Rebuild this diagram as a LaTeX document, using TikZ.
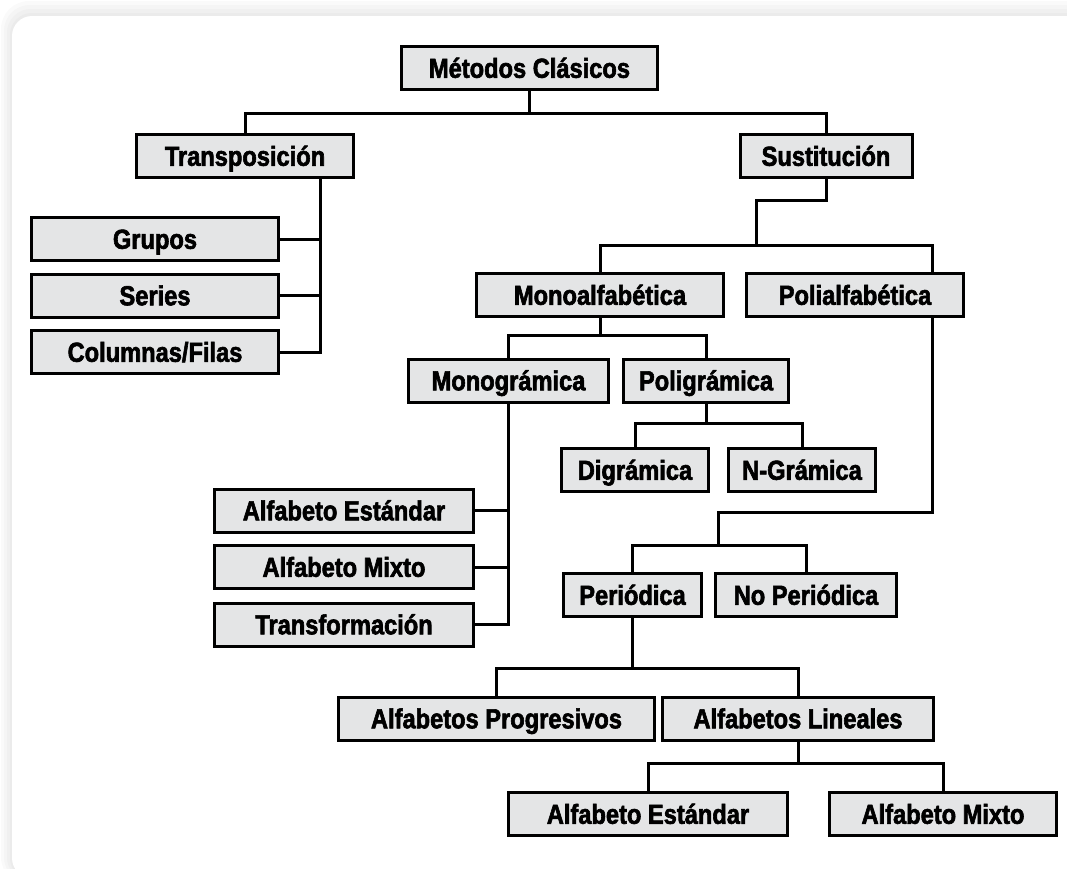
\documentclass[tikz,border=0pt]{standalone}
\usepackage{fontspec}
\newfontfamily\boxfont[FakeStretch=0.86,BoldFeatures={FakeBold=2.2}]{Liberation Sans}
\definecolor{boxfill}{HTML}{E4E5E6}
\begin{document}
\begin{tikzpicture}[x=1pt,y=-1pt,
  cbox/.style={draw=black, line width=3pt, fill=boxfill, inner sep=0pt,
    minimum height=43pt, text height=19.5pt, text depth=0pt,
    font={\boxfont\bfseries\fontsize{27.5}{27.5}\selectfont}},
  conn/.style={draw=black, line width=3pt}]
\useasboundingbox (0,0) rectangle (1067,868);

% white panel with a soft grey rim
\begin{scope}
  \clip (0,0) rectangle (1067,868);
  \fill[gray!4, rounded corners=28pt] (1,1) rectangle (1120,885);
  \fill[gray!8, rounded corners=26pt] (4,5) rectangle (1120,883);
  \fill[gray!12, rounded corners=24pt] (7,9) rectangle (1120,881);
  \fill[gray!16, rounded corners=22pt] (10,13) rectangle (1120,880);
  \fill[white, rounded corners=20pt] (12,16) rectangle (1120,878);
\end{scope}

% boxes
\node[cbox, minimum width=256pt] (mc) at (529.5,68) {Métodos Clásicos};
\node[cbox, minimum width=217pt] (tr) at (245,156) {Transposición};
\node[cbox, minimum width=172pt] (su) at (826,156) {Sustitución};
\node[cbox, minimum width=247pt] (gr) at (155,239) {Grupos};
\node[cbox, minimum width=247pt] (se) at (155,295.5) {Series};
\node[cbox, minimum width=247pt] (cf) at (155,352) {Columnas/Filas};
\node[cbox, minimum width=247pt] (mo) at (600,295) {Monoalfabética};
\node[cbox, minimum width=217pt] (po) at (855,295) {Polialfabética};
\node[cbox, minimum width=200pt] (mg) at (508.5,380.5) {Monográmica};
\node[cbox, minimum width=165pt] (pg) at (706,380.5) {Poligrámica};
\node[cbox, minimum width=147pt] (dg) at (635,470) {Digrámica};
\node[cbox, minimum width=147pt] (ng) at (802,470) {N-Grámica};
\node[cbox, minimum width=259pt] (ae1) at (344,510.5) {Alfabeto Estándar};
\node[cbox, minimum width=259pt] (am1) at (344,567) {Alfabeto Mixto};
\node[cbox, minimum width=259pt] (tf) at (344,624.5) {Transformación};
\node[cbox, minimum width=138pt] (pe) at (632.5,595) {Periódica};
\node[cbox, minimum width=181pt] (np) at (806,595) {No Periódica};
\node[cbox, minimum width=316pt] (ap) at (496.5,718.5) {Alfabetos Progresivos};
\node[cbox, minimum width=271pt] (al) at (798,718.5) {Alfabetos Lineales};
\node[cbox, minimum width=279pt] (ae2) at (648,814) {Alfabeto Estándar};
\node[cbox, minimum width=227pt] (am2) at (943,814) {Alfabeto Mixto};

% bus levels and bend points
\coordinate (b1) at (0,113);
\coordinate (tx) at (320,0);
\coordinate (sj) at (756,200);
\coordinate (b2) at (0,245);
\coordinate (px) at (932,0);
\coordinate (b3) at (0,335);
\coordinate (b4) at (0,423);
\coordinate (pj) at (718,512);
\coordinate (b5) at (0,545);
\coordinate (b6) at (0,668);
\coordinate (b7) at (0,763);

% root
\draw[conn] (mc.south) -- (mc.south |- b1);
\draw[conn] (tr.north) -- (tr.north |- b1) -- (su.north |- b1) -- (su.north);

% transposition branch
\draw[conn] (tr.south -| tx) -- (tx |- cf.east) -- (cf.east);
\draw[conn] (gr.east) -- (gr.east -| tx);
\draw[conn] (se.east) -- (se.east -| tx);

% substitution branch
\draw[conn] (su.south) -- (su.south |- sj) -- (sj) -- (sj |- b2);
\draw[conn] (mo.north) -- (mo.north |- b2) -- (px |- b2) -- (po.north -| px);

% monoalphabetic
\draw[conn] (mo.south) -- (mo.south |- b3);
\draw[conn] (mg.north) -- (mg.north |- b3) -- (pg.north |- b3) -- (pg.north);
\draw[conn] (pg.south) -- (pg.south |- b4);
\draw[conn] (dg.north) -- (dg.north |- b4) -- (ng.north |- b4) -- (ng.north);
\draw[conn] (mg.south) -- (mg.south |- tf.east) -- (tf.east);
\draw[conn] (ae1.east) -- (ae1.east -| mg.south);
\draw[conn] (am1.east) -- (am1.east -| mg.south);

% polyalphabetic
\draw[conn] (po.south -| px) -- (px |- pj) -- (pj) -- (pj |- b5);
\draw[conn] (pe.north) -- (pe.north |- b5) -- (np.north |- b5) -- (np.north);
\draw[conn] (pe.south) -- (pe.south |- b6);
\draw[conn] (ap.north) -- (ap.north |- b6) -- (al.north |- b6) -- (al.north);
\draw[conn] (al.south) -- (al.south |- b7);
\draw[conn] (ae2.north) -- (ae2.north |- b7) -- (am2.north |- b7) -- (am2.north);
\end{tikzpicture}
\end{document}
